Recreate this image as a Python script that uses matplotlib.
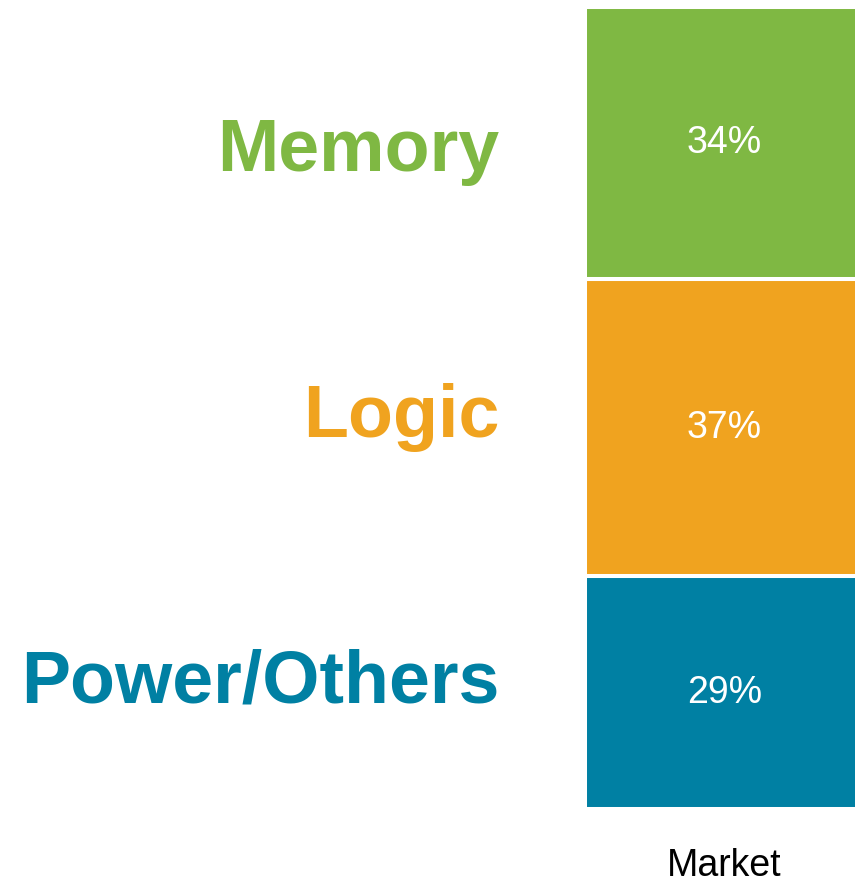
import matplotlib
matplotlib.use("Agg")
import matplotlib.pyplot as plt

plt.rcParams['font.family'] = ['Liberation Sans', 'DejaVu Sans']

# data (bottom to top)
segments = ["Power/Others", "Logic", "Memory"]
shares = [29, 37, 34]
colors = ["#0080A3", "#F0A31F", "#7FB843"]
column = ["Market"]

fig = plt.figure(figsize=(8.55, 8.83), dpi=100)
W, H = 855, 883
# the bar runs a little past the right edge of the picture
ax = fig.add_axes([585 / W, (H - 809) / H, 279 / W, (809 - 6.5) / H])

bottom = 0
for name, val, col in zip(segments, shares, colors):
    ax.bar(0, val, bottom=bottom, width=1.0, color=col, edgecolor="white", linewidth=2.9)
    ax.text(0, bottom + val / 2, "{}%".format(val), color="white", fontsize=27,
            ha="center", va="center")
    bottom += val

ax.set_xlim(-0.5, 0.5)
ax.set_ylim(0, sum(shares))
ax.set_xticks([0])
ax.set_xticklabels(column, fontsize=27)
ax.tick_params(axis="x", length=0, pad=28)
ax.set_yticks([])
for s in ax.spines.values():
    s.set_visible(False)

# big category labels on the left, evenly spaced
label_y = [703, 437, 171]
for name, col, y in zip(segments, colors, label_y):
    fig.text(499 / W, (H - y) / H, name, color=col, fontsize=53, fontweight="bold",
             ha="right", va="baseline")

fig.savefig("out.png", dpi=100)
